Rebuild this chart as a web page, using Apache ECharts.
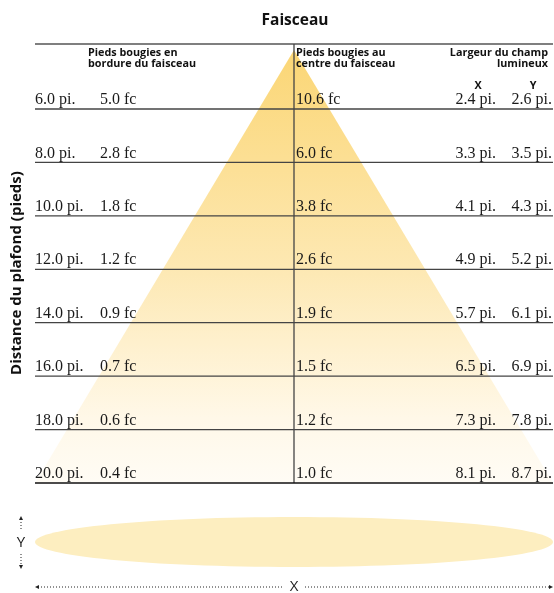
<!DOCTYPE html>
<html>
<head>
<meta charset="utf-8">
<script src="https://cdn.jsdelivr.net/npm/echarts@6/dist/echarts.min.js"></script>
<style>
  html, body { margin: 0; padding: 0; background: #fff; }
  #chart { width: 554px; height: 593px; }
</style>
</head>
<body>
<div id="chart"></div>
<script>
var distances = [6, 8, 10, 12, 14, 16, 18, 20];          // distance du plafond (pi.)
var edgeFc    = [5.0, 2.8, 1.8, 1.2, 0.9, 0.7, 0.6, 0.4]; // bordure du faisceau
var centerFc  = [10.6, 6.0, 3.8, 2.6, 1.9, 1.5, 1.2, 1.0]; // centre du faisceau
var widthX    = [2.4, 3.3, 4.1, 4.9, 5.7, 6.5, 7.3, 8.1];
var widthY    = [2.6, 3.5, 4.3, 5.2, 6.1, 6.9, 7.8, 8.7];

var serif = '"Liberation Serif", "DejaVu Serif", serif';
var sans = '"Open Sans", "Noto Sans", sans-serif';

var rows = [];
for (var i = 0; i < distances.length; i++) {
  rows.push([distances[i], edgeFc[i], centerFc[i], widthX[i], widthY[i]]);
}

var myChart = echarts.init(document.getElementById('chart'));

function numText(x, y, txt, align) {
  return {
    type: 'text',
    style: {
      x: x, y: y, text: txt,
      font: '16px ' + serif,
      fill: '#1a1a1a',
      align: align || 'left',
      verticalAlign: 'bottom'
    }
  };
}

var headFont = 'bold 10.8px ' + sans;

var option = {
  animation: false,
  grid: { left: 35, right: 1, top: 44, bottom: 110 },
  xAxis: {
    type: 'value', min: -10, max: 10,
    axisLine: { show: false }, axisTick: { show: false },
    axisLabel: { show: false }, splitLine: { show: false }
  },
  yAxis: {
    type: 'value', inverse: true, min: 3.566, max: 20,
    axisLine: { show: false }, axisTick: { show: false },
    axisLabel: { show: false }, splitLine: { show: false }
  },
  series: [
    {
      // cone de lumiere
      type: 'custom',
      z: 1,
      silent: true,
      data: [[3.79, 20, 10]],
      renderItem: function (params, api) {
        var apex = api.coord([0, api.value(0)]);
        var bl = api.coord([-api.value(2), api.value(1)]);
        var br = api.coord([api.value(2), api.value(1)]);
        return {
          type: 'polygon',
          shape: { points: [apex, br, bl] },
          style: {
            fill: new echarts.graphic.LinearGradient(0, 0, 0, 1, [
              { offset: 0, color: '#fbd675' },
              { offset: 0.5, color: '#fde8b2' },
              { offset: 0.85, color: '#fff8e8' },
              { offset: 1, color: '#fffcf5' }
            ])
          }
        };
      }
    },
    {
      // lignes du tableau
      type: 'custom',
      z: 3,
      silent: true,
      data: rows,
      renderItem: function (params, api) {
        var cs = params.coordSys;
        var y = api.coord([0, api.value(0)])[1];
        var last = params.dataIndex === rows.length - 1;
        return {
          type: 'group',
          children: [
            {
              type: 'line',
              shape: { x1: cs.x, y1: y, x2: cs.x + cs.width, y2: y },
              style: { stroke: last ? '#111' : '#444', lineWidth: last ? 1.6 : 1.3 }
            },
            numText(35, y - 1, api.value(0).toFixed(1) + ' pi.'),
            numText(100, y - 1, api.value(1).toFixed(1) + ' fc'),
            numText(296, y - 1, api.value(2).toFixed(1) + ' fc'),
            numText(496, y - 1, api.value(3).toFixed(1) + ' pi.', 'right'),
            numText(552, y - 1, api.value(4).toFixed(1) + ' pi.', 'right')
          ]
        };
      }
    }
  ],
  graphic: [
    { type: 'text', z: 5, style: { x: 295, y: 21, text: 'Faisceau', font: 'bold 15.5px ' + sans, fill: '#111', align: 'center', verticalAlign: 'middle' } },
    { type: 'line', z: 2, shape: { x1: 35, y1: 44, x2: 553, y2: 44 }, style: { stroke: '#555', lineWidth: 1.3 } },
    { type: 'line', z: 2, shape: { x1: 294, y1: 44, x2: 294, y2: 483 }, style: { stroke: '#444', lineWidth: 1.3 } },
    {
      type: 'text', z: 5,
      style: { x: 88, y: 47, text: 'Pieds bougies en\nbordure du faisceau', font: headFont, fill: '#111', lineHeight: 11 }
    },
    {
      type: 'text', z: 5,
      style: { x: 296, y: 47, text: 'Pieds bougies au\ncentre du faisceau', font: headFont, fill: '#111', lineHeight: 11 }
    },
    {
      type: 'text', z: 5,
      style: { x: 548, y: 47, text: 'Largeur du champ\nlumineux', font: headFont, fill: '#111', lineHeight: 11, align: 'right' }
    },
    { type: 'text', z: 5, style: { x: 478, y: 86, text: 'X', font: headFont, fill: '#111', align: 'center', verticalAlign: 'middle' } },
    { type: 'text', z: 5, style: { x: 533, y: 86, text: 'Y', font: headFont, fill: '#111', align: 'center', verticalAlign: 'middle' } },
    {
      type: 'text', z: 5,
      x: 17, y: 273, rotation: Math.PI / 2,
      style: { x: 0, y: 0, text: 'Distance du plafond (pieds)', font: 'bold 15px ' + sans, fill: '#111', align: 'center', verticalAlign: 'middle' }
    },
    // tache lumineuse au sol
    { type: 'ellipse', z: 1, shape: { cx: 294, cy: 542, rx: 259, ry: 25 }, style: { fill: '#fdeec0' } },
    // fleche Y
    { type: 'line', shape: { x1: 21, y1: 519, x2: 21, y2: 531 }, style: { stroke: '#222', lineWidth: 1, lineDash: [1, 2] } },
    { type: 'polygon', shape: { points: [[21, 516], [19, 520], [23, 520]] }, style: { fill: '#222' } },
    { type: 'text', style: { x: 21, y: 543, text: 'Y', font: '15px ' + sans, fill: '#222', align: 'center', verticalAlign: 'middle' } },
    { type: 'line', shape: { x1: 21, y1: 554, x2: 21, y2: 566 }, style: { stroke: '#222', lineWidth: 1, lineDash: [1, 2] } },
    { type: 'polygon', shape: { points: [[21, 569], [19, 565], [23, 565]] }, style: { fill: '#222' } },
    // fleche X
    { type: 'line', shape: { x1: 38, y1: 587, x2: 284, y2: 587 }, style: { stroke: '#222', lineWidth: 1, lineDash: [1, 2] } },
    { type: 'polygon', shape: { points: [[35, 587], [39, 585], [39, 589]] }, style: { fill: '#222' } },
    { type: 'text', style: { x: 294, y: 587, text: 'X', font: '15px ' + sans, fill: '#222', align: 'center', verticalAlign: 'middle' } },
    { type: 'line', shape: { x1: 305, y1: 587, x2: 550, y2: 587 }, style: { stroke: '#222', lineWidth: 1, lineDash: [1, 2] } },
    { type: 'polygon', shape: { points: [[553, 587], [549, 585], [549, 589]] }, style: { fill: '#222' } }
  ]
};

myChart.setOption(option);
window.onresize = myChart.resize;
</script>
</body>
</html>
